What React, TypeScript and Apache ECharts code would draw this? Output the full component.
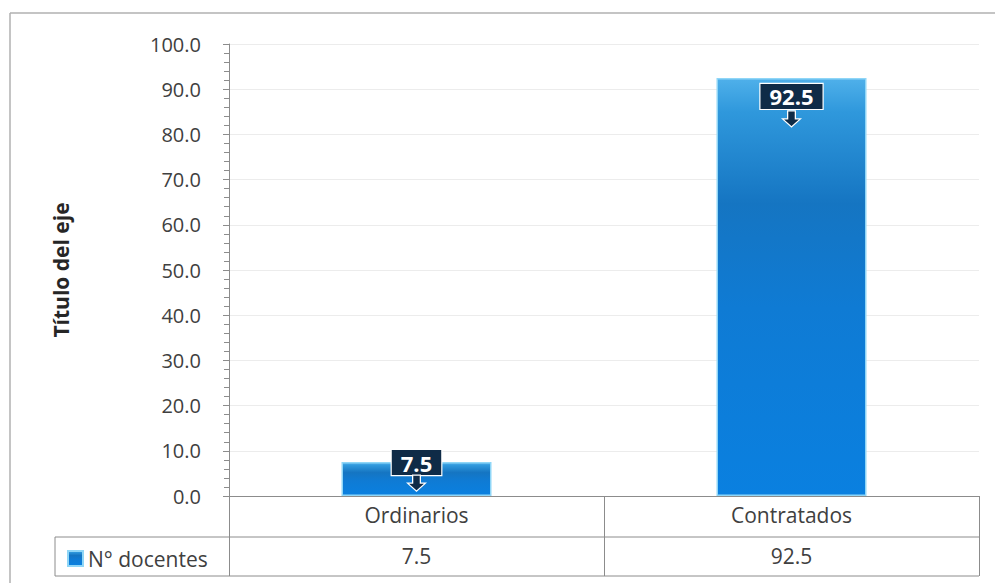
import React, { useEffect, useRef } from "react";
import * as echarts from "echarts";

const categories = ["Ordinarios", "Contratados"];
const seriesName = "N° docentes";
const values = [7.5, 92.5];
const yTicks = { min: 0, max: 100, interval: 10 };

const FONT = "'Open Sans', Lato, sans-serif";
const TXT = "#404040";
const LINE = "#8c8c8c";

export default function App() {
  const ref = useRef<HTMLDivElement>(null);
  useEffect(() => {
    document.body.style.margin = "0";
    const chart = echarts.init(ref.current!, null, { renderer: "svg" });
    const barGrad = new echarts.graphic.LinearGradient(0, 0, 0, 1, [
      { offset: 0, color: "#4fb0ea" },
      { offset: 0.08, color: "#2f98dc" },
      { offset: 0.3, color: "#1575c2" },
      { offset: 0.55, color: "#0f7bd4" },
      { offset: 1, color: "#0a80e0" },
    ]);
    const labelOffsets = [[0, -18], [0, 0]];
    const arrowOffsets = [[0, 21], [0, 41]];
    chart.setOption({
      animation: false,
      backgroundColor: "#ffffff",
      textStyle: { fontFamily: FONT },
      grid: { left: 229, right: 16, top: 44, bottom: 90, containLabel: false },
      legend: {
        data: [seriesName],
        left: 62,
        top: 543,
        icon: "rect",
        itemWidth: 15,
        itemHeight: 15,
        itemGap: 4,
        textStyle: { fontSize: 21, color: TXT, fontFamily: FONT, padding: [0, 0, 0, 0] },
      },
      xAxis: [
        {
          type: "category",
          data: categories,
          position: "bottom",
          axisLine: { show: true, lineStyle: { color: LINE, width: 1 } },
          axisTick: { show: true, interval: 0, length: 80, lineStyle: { color: LINE } },
          axisLabel: { fontSize: 21, color: TXT, margin: 8, fontFamily: FONT },
          splitLine: { show: false },
        },
        {
          type: "category",
          data: values.map((v) => v.toFixed(1)),
          position: "bottom",
          offset: 41,
          axisLine: { show: false },
          axisTick: { show: false },
          axisLabel: { fontSize: 21, color: TXT, margin: 8, fontFamily: FONT },
        },
      ],
      yAxis: {
        type: "value",
        min: yTicks.min,
        max: yTicks.max,
        interval: yTicks.interval,
        name: "Título del eje",
        nameLocation: "middle",
        nameGap: 158,
        nameRotate: 90,
        nameTextStyle: { fontSize: 21, fontWeight: "bold", color: "#262626", fontFamily: FONT },
        axisLine: { show: true, lineStyle: { color: LINE } },
        axisTick: { show: true, length: 6, lineStyle: { color: LINE } },
        minorTick: { show: true, splitNumber: 5, length: 5, lineStyle: { color: LINE } },
        axisLabel: {
          formatter: (v: number) => v.toFixed(1),
          fontSize: 20,
          color: TXT,
          margin: 28,
          fontFamily: FONT,
        },
        splitLine: { show: true, lineStyle: { color: "#ececec", width: 1 } },
      },
      series: [
        {
          name: seriesName,
          type: "bar",
          barWidth: "40%",
          data: values.map((v, i) => ({
            value: v,
            label: { offset: labelOffsets[i] },
          })),
          itemStyle: { color: barGrad, borderColor: "#8fd6f7", borderWidth: 1.5 },
          z: 2,
          label: {
            show: true,
            position: "insideTop",
            distance: 6,
            formatter: (p: any) => String(p.value),
            color: "#ffffff",
            fontWeight: "bold",
            fontSize: 22,
            fontFamily: FONT,
            backgroundColor: "#0f2b47",
            borderColor: "#ffffff",
            borderWidth: 1.2,
            padding: [0, 9, 0, 9],
            lineHeight: 25,
          },
        },
        {
          name: "arrow",
          type: "scatter",
          data: values.map((v, i) => ({ value: [categories[i], v], symbolOffset: arrowOffsets[i] })),
          symbol: "path://M4,0 L10,0 L10,7 L14,7 L7,14 L0,7 L4,7 Z",
          symbolSize: [18, 16],
          itemStyle: { color: "#0f2b47", borderColor: "#ffffff", borderWidth: 1.2, opacity: 1 },
          z: 3,
          silent: true,
        },
      ],
      graphic: [
        {
          type: "line",
          shape: { x1: 10, y1: 13, x2: 995, y2: 13 },
          style: { stroke: "#b0b0b0", lineWidth: 1.5 },
        },
        {
          type: "line",
          shape: { x1: 10, y1: 13, x2: 10, y2: 583 },
          style: { stroke: "#b0b0b0", lineWidth: 1.5 },
        },
        {
          type: "line",
          shape: { x1: 55, y1: 537, x2: 979, y2: 537 },
          style: { stroke: LINE, lineWidth: 1 },
        },
        {
          type: "line",
          shape: { x1: 55, y1: 576, x2: 979, y2: 576 },
          style: { stroke: LINE, lineWidth: 1 },
        },
        {
          type: "line",
          shape: { x1: 55, y1: 537, x2: 55, y2: 576 },
          style: { stroke: LINE, lineWidth: 1 },
        },
      ],
    });
    return () => chart.dispose();
  }, []);
  return <div ref={ref} style={{ width: 995, height: 586 }} />;
}
